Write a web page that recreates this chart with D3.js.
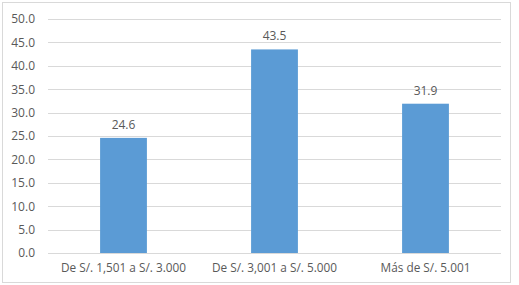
<!DOCTYPE html>
<html>
<head>
<meta charset="utf-8">
<script src="https://cdn.jsdelivr.net/npm/d3@7"></script>
<style>
  body { margin: 0; background: #fff; }
  svg text { font-family: "Open Sans", "Noto Sans", sans-serif; fill: #595959; }
</style>
</head>
<body>
<div id="chart"></div>
<script>
const categories = ['De S/. 1,501 a S/. 3.000', 'De S/. 3,001 a S/. 5.000', 'Más de S/. 5.001'];
const values = [24.6, 43.5, 31.9];
const yTicks = [0, 5, 10, 15, 20, 25, 30, 35, 40, 45, 50];

const width = 519, height = 285;
const margin = { top: 19, right: 18, bottom: 32, left: 48 };

const svg = d3.select('#chart').append('svg')
    .attr('width', width)
    .attr('height', height);

// outer chart border
svg.append('rect')
    .attr('x', 2.5).attr('y', 2.5)
    .attr('width', 508).attr('height', 280)
    .attr('fill', 'none')
    .attr('stroke', '#d9d9d9');

const x = d3.scaleBand()
    .domain(categories)
    .range([margin.left, width - margin.right])
    .paddingInner(0.69)
    .paddingOuter(0.345);

const y = d3.scaleLinear()
    .domain([0, 50])
    .range([height - margin.bottom, margin.top]);

// gridlines
svg.append('g')
    .selectAll('line')
    .data(yTicks)
    .join('line')
    .attr('x1', margin.left)
    .attr('x2', width - margin.right)
    .attr('y1', d => Math.round(y(d)) + 0.5)
    .attr('y2', d => Math.round(y(d)) + 0.5)
    .attr('stroke', '#d9d9d9');

// y axis labels
const yAxis = svg.append('g')
    .attr('transform', `translate(${margin.left},0)`)
    .call(d3.axisLeft(y).tickValues(yTicks).tickFormat(d3.format('.1f')).tickSize(0).tickPadding(13));
yAxis.select('.domain').remove();
yAxis.selectAll('text').attr('font-size', '12px').attr('fill', '#595959')
    .style('font-family', '"Open Sans", sans-serif');

// x axis labels
const xAxis = svg.append('g')
    .attr('transform', `translate(0,${height - margin.bottom})`)
    .call(d3.axisBottom(x).tickSize(0).tickPadding(11));
xAxis.select('.domain').remove();
xAxis.selectAll('text').attr('font-size', '11.8px').attr('fill', '#595959')
    .style('font-family', '"Open Sans", sans-serif');

// bars
svg.append('g')
    .selectAll('rect')
    .data(values)
    .join('rect')
    .attr('x', (d, i) => x(categories[i]))
    .attr('y', d => y(d))
    .attr('width', x.bandwidth())
    .attr('height', d => y(0) - y(d))
    .attr('fill', '#5b9bd5');

// value labels
svg.append('g')
    .selectAll('text')
    .data(values)
    .join('text')
    .attr('x', (d, i) => x(categories[i]) + x.bandwidth() / 2)
    .attr('y', d => y(d) - 9)
    .attr('text-anchor', 'middle')
    .attr('font-size', '12px')
    .text(d => d.toFixed(1));
</script>
</body>
</html>
